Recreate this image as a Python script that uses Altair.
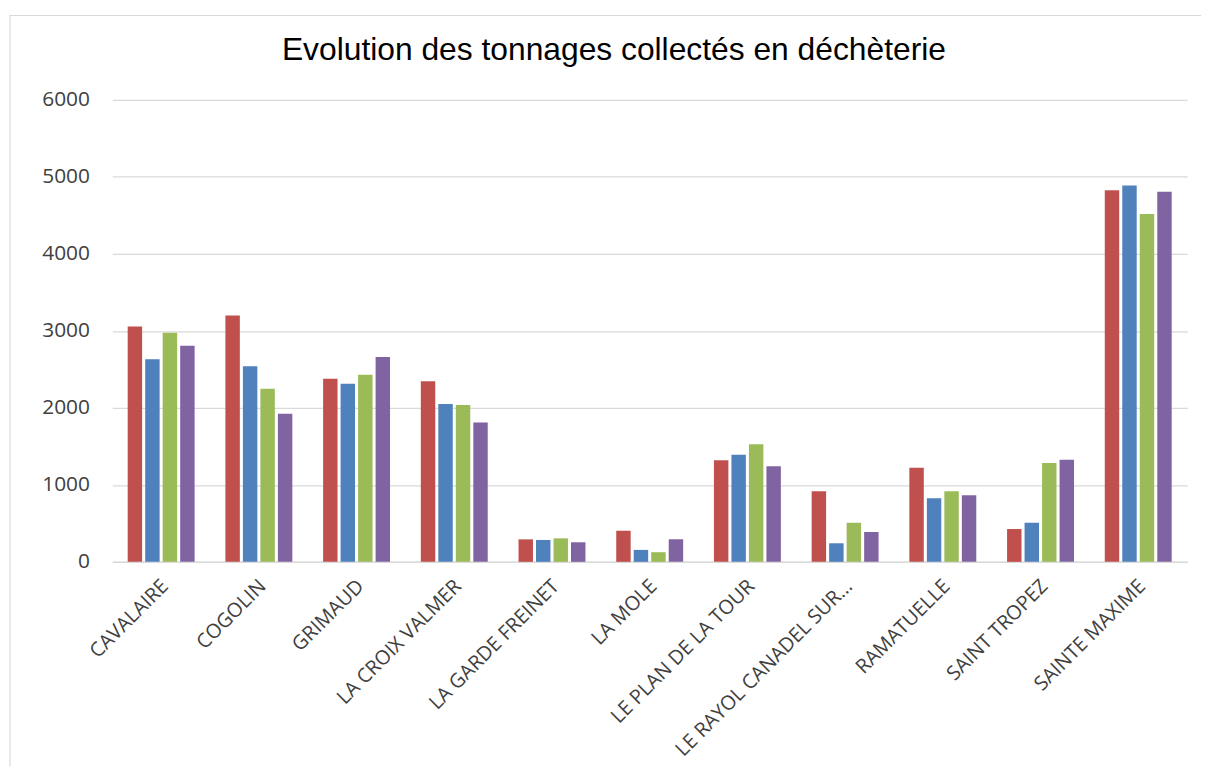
import altair as alt
import pandas as pd

communes = ["CAVALAIRE", "COGOLIN", "GRIMAUD", "LA CROIX VALMER", "LA GARDE FREINET",
            "LA MOLE", "LE PLAN DE LA TOUR", "LE RAYOL CANADEL SUR…", "RAMATUELLE",
            "SAINT TROPEZ", "SAINTE MAXIME"]
series_names = ["Série 1", "Série 2", "Série 3", "Série 4"]
serie1 = [3057, 3199, 2377, 2347, 292, 404, 1318, 917, 1223, 426, 4827]
serie2 = [2631, 2541, 2313, 2050, 284, 155, 1390, 241, 826, 508, 4888]
serie3 = [2976, 2248, 2429, 2037, 305, 125, 1528, 508, 917, 1283, 4517]
serie4 = [2808, 1925, 2661, 1809, 254, 292, 1240, 387, 865, 1326, 4806]
colors = ["#C0504D", "#4F81BD", "#9BBB59", "#8064A2"]
y_ticks = [0, 1000, 2000, 3000, 4000, 5000, 6000]

rows = []
for name, vals in zip(series_names, [serie1, serie2, serie3, serie4]):
    for c, v in zip(communes, vals):
        rows.append({"commune": c, "serie": name, "tonnage": v})
df = pd.DataFrame(rows)

bars = alt.Chart(df).mark_bar().encode(
    x=alt.X("commune:N", sort=communes, title=None,
            scale=alt.Scale(paddingInner=0.315, paddingOuter=0.1575),
            axis=alt.Axis(labelAngle=-45, labelAlign="right", labelBaseline="top",
                          labelPadding=14, labelOffset=-3, ticks=False,
                          domainColor="#d9d9d9", domainWidth=1.5,
                          labelFont="Open Sans", labelFontSize=20, labelColor="#404040",
                          labelLimit=400)),
    xOffset=alt.XOffset("serie:N", sort=series_names,
                        scale=alt.Scale(paddingInner=0.175, paddingOuter=0)),
    y=alt.Y("tonnage:Q", title=None,
            scale=alt.Scale(domain=[0, 6000], nice=False),
            axis=alt.Axis(values=y_ticks, format="d", domain=False, ticks=False,
                          labelPadding=23, gridColor="#d9d9d9", gridWidth=1.3,
                          labelFont="Open Sans", labelFontSize=21, labelColor="#404040")),
    color=alt.Color("serie:N", sort=series_names,
                    scale=alt.Scale(domain=series_names, range=colors), legend=None),
)

frame = alt.Chart(pd.DataFrame({"k": [0]})).mark_rect(
    fill=None, stroke="#d9d9d9", strokeWidth=1.2
).encode(
    x=alt.value(-103), x2=alt.value(1110), y=alt.value(-85), y2=alt.value(700)
)

chart = alt.layer(frame, bars).properties(
    width=1082, height=465,
    autosize=alt.AutoSizeParams(type="none"),
    padding={"left": 105, "top": 90, "right": 14, "bottom": 203},
    title=alt.TitleParams("Evolution des tonnages collectés en déchèterie",
                          font="Liberation Sans", fontSize=32, fontWeight="normal",
                          color="#000000", anchor="middle", frame="group",
                          baseline="alphabetic", offset=-77, dx=-36),
).configure_view(stroke=None)

chart.save("out.html", embed_options={"renderer": "svg", "actions": False})
